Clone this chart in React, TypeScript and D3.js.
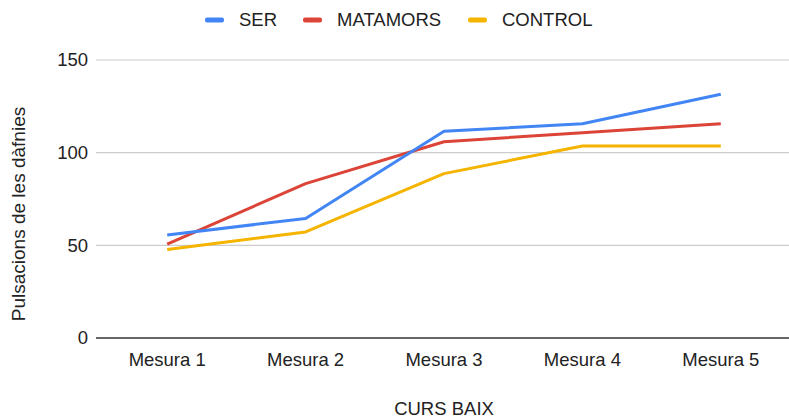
import React, { useEffect, useRef } from 'react';
import * as d3 from 'd3';

const categories = ['Mesura 1', 'Mesura 2', 'Mesura 3', 'Mesura 4', 'Mesura 5'];
const serValues = [55.6, 64.5, 111.6, 115.6, 131.5];
const matamorsValues = [50.7, 83.3, 105.9, 110.8, 115.6];
const controlValues = [47.8, 57.2, 88.7, 103.6, 103.6];
const seriesNames = ['SER', 'MATAMORS', 'CONTROL'];
const seriesColors = ['#4285F4', '#DB4437', '#F4B400'];
const yTicks = [0, 50, 100, 150];

const W = 789;
const H = 419;
const FONT = '"Liberation Sans", Arial, sans-serif';
const FS = 18.5;

export default function App() {
  const ref = useRef<SVGSVGElement>(null);

  useEffect(() => {
    const svg = d3.select(ref.current);
    svg.selectAll('*').remove();

    const x = d3.scaleBand().domain(categories).range([98, 790]);
    const y = d3.scaleLinear().domain([0, 150]).range([338, 60]);

    // gridlines
    svg.append('g')
      .selectAll('line')
      .data(yTicks.filter(d => d !== 0))
      .join('line')
      .attr('x1', 96).attr('x2', W)
      .attr('y1', d => y(d)).attr('y2', d => y(d))
      .attr('stroke', '#cccccc').attr('stroke-width', 1.2);

    // y labels
    svg.append('g')
      .selectAll('text')
      .data(yTicks)
      .join('text')
      .attr('x', 88).attr('y', d => y(d))
      .attr('dy', '0.35em')
      .attr('text-anchor', 'end')
      .attr('font-family', FONT).attr('font-size', FS).attr('fill', '#222')
      .text(d => d);

    // baseline
    svg.append('line')
      .attr('x1', 96).attr('x2', W)
      .attr('y1', y(0)).attr('y2', y(0))
      .attr('stroke', '#333').attr('stroke-width', 1.5);

    // x labels
    svg.append('g')
      .selectAll('text')
      .data(categories)
      .join('text')
      .attr('x', d => (x(d) as number) + x.bandwidth() / 2)
      .attr('y', 360)
      .attr('dy', '0.35em')
      .attr('text-anchor', 'middle')
      .attr('font-family', FONT).attr('font-size', FS).attr('fill', '#222')
      .text(d => d);

    // lines
    const allSeries = [serValues, matamorsValues, controlValues];
    const line = d3.line<number>()
      .x((_, i) => (x(categories[i]) as number) + x.bandwidth() / 2)
      .y(d => y(d));
    [2, 1, 0].forEach(i => {
      svg.append('path')
        .datum(allSeries[i])
        .attr('fill', 'none')
        .attr('stroke', seriesColors[i])
        .attr('stroke-width', 3)
        .attr('stroke-linejoin', 'round')
        .attr('d', line);
    });

    // axis titles
    svg.append('text')
      .attr('x', 444).attr('y', 409)
      .attr('dy', '0.35em')
      .attr('text-anchor', 'middle')
      .attr('font-family', FONT).attr('font-size', FS).attr('fill', '#222')
      .text('CURS BAIX');

    svg.append('text')
      .attr('transform', 'translate(18,214) rotate(-90)')
      .attr('dy', '0.35em')
      .attr('text-anchor', 'middle')
      .attr('font-family', FONT).attr('font-size', 19).attr('fill', '#222')
      .text('Pulsacions de les dàfnies');

    // legend
    const legendX = [205, 303, 468];
    const lg = svg.append('g');
    seriesNames.forEach((name, i) => {
      lg.append('rect')
        .attr('x', legendX[i]).attr('y', 17.5)
        .attr('width', 19).attr('height', 5).attr('rx', 2)
        .attr('fill', seriesColors[i]);
      lg.append('text')
        .attr('x', legendX[i] + 34).attr('y', 19.5)
        .attr('dy', '0.35em')
        .attr('font-family', FONT).attr('font-size', FS).attr('fill', '#222')
        .text(name);
    });
  }, []);

  return (
    <svg
      ref={ref}
      width={W}
      height={H}
      style={{ position: 'absolute', left: 0, top: 0, background: '#fff' }}
    />
  );
}
